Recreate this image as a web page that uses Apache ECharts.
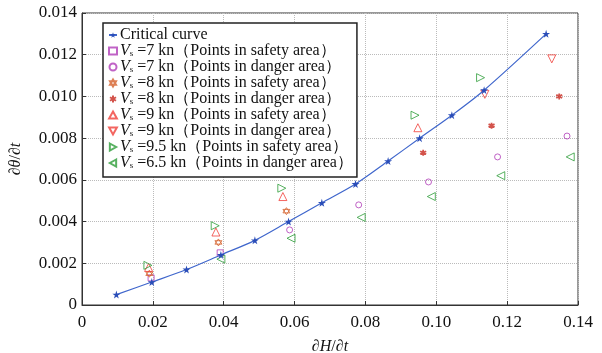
<!DOCTYPE html>
<html>
<head>
<meta charset="utf-8">
<script src="https://cdn.jsdelivr.net/npm/echarts@6/dist/echarts.min.js"></script>
<style>
  html, body { margin: 0; padding: 0; background: #fff; }
  #chart { width: 602px; height: 353px; }
</style>
</head>
<body>
<div id="chart"></div>
<script>
// critical curve
var critX = [0.0097, 0.0197, 0.0295, 0.0392, 0.0488, 0.0583, 0.0677, 0.0772, 0.0864, 0.0953, 0.1044, 0.1135, 0.131];
var critY = [0.0005, 0.0011, 0.0017, 0.0024, 0.0031, 0.0040, 0.0049, 0.0058, 0.0069, 0.0080, 0.0091, 0.0103, 0.0130];

// test points [dH/dt, dθ/dt]
var v7Safe = [[0.0195, 0.0013], [0.0390, 0.0025]];
var v7Danger = [[0.0586, 0.0036], [0.0781, 0.0048], [0.0978, 0.0059], [0.1173, 0.0071], [0.1369, 0.0081]];
var v8Safe = [[0.0190, 0.0015], [0.0385, 0.0030], [0.0577, 0.0045]];
var v8Danger = [[0.0963, 0.0073], [0.1156, 0.0086], [0.1347, 0.0100]];
var v9Safe = [[0.0188, 0.0018], [0.0378, 0.0035], [0.0567, 0.0052], [0.0758, 0.0068], [0.0948, 0.0085]];
var v9Danger = [[0.1137, 0.0101], [0.1326, 0.0118]];
var v95Safe = [[0.0186, 0.0019], [0.0376, 0.0038], [0.0564, 0.0056], [0.0753, 0.0074], [0.0940, 0.0091], [0.1125, 0.0109]];
var v65Danger = [[0.0392, 0.0022], [0.0590, 0.0032], [0.0788, 0.0042], [0.0986, 0.0052], [0.1182, 0.0062], [0.1378, 0.0071]];

var critName = 'Critical curve';
var speeds = ['7', '7', '8', '8', '9', '9', '9.5', '6.5'];
var areas = ['safety', 'danger', 'safety', 'danger', 'safety', 'danger', 'safety', 'danger'];

var serif = '"Liberation Serif", "Times New Roman", serif';

// 符号
var starPath = 'path://M50,0L61,35L98,35L68,57L79,91L50,70L21,91L32,57L2,35L39,35Z';
var hexPath = 'path://M50,0L93,75L7,75Z M50,100L7,25L93,25Z';
var astPath = 'path://M50,0L50,100M7,25L93,75M7,75L93,25';
var rightTri = 'path://M0,0L90,50L0,100Z';
var leftTri = 'path://M90,0L0,50L90,100Z';
var upTri = 'path://M50,0L100,90L0,90Z';
var downTri = 'path://M0,0L100,0L50,90Z';

var purple = '#b03cb8', orange = '#d4602a', darkRed = '#c8281e', red = '#f0403a', green = '#2e9e3a';

function ptName (i) {
  return 'Vs =' + speeds[i] + ' kn（Points in ' + areas[i] + ' area）';
}

function hollow (name, data, symbol, color, size) {
  return {
    name: name,
    type: 'scatter',
    data: data,
    symbol: symbol,
    symbolSize: size || 7,
    itemStyle: { color: 'rgba(255,255,255,0)', borderColor: color, borderWidth: 1 }
  };
}

var series = [
  {
    name: critName,
    type: 'line',
    data: critX.map(function (x, i) { return [x, critY[i]]; }),
    smooth: 0.3,
    symbol: starPath,
    symbolSize: 8,
    showAllSymbol: true,
    lineStyle: { color: '#3f66cc', width: 1.2 },
    itemStyle: { color: '#2a4db8' },
    z: 3
  },
  hollow(ptName(0), v7Safe, 'rect', purple, 6),
  hollow(ptName(1), v7Danger, 'circle', purple, 6),
  hollow(ptName(2), v8Safe, hexPath, orange, 7),
  {
    name: ptName(3),
    type: 'scatter',
    data: v8Danger,
    symbol: astPath,
    symbolSize: 6,
    itemStyle: { color: darkRed, borderColor: darkRed, borderWidth: 1.8 }
  },
  hollow(ptName(4), v9Safe, upTri, red, 8),
  hollow(ptName(5), v9Danger, downTri, red, 8),
  hollow(ptName(6), v95Safe, rightTri, green, 8),
  hollow(ptName(7), v65Danger, leftTri, green, 8)
];

var myChart = echarts.init(document.getElementById('chart'));

var option = {
  animation: false,
  backgroundColor: '#fff',
  grid: {
    left: 82, right: 24, top: 13, bottom: 48,
    outerBoundsMode: 'none',
    containLabel: false,
    show: true, borderColor: '#333', borderWidth: 1
  },
  legend: {
    orient: 'vertical',
    left: 103,
    top: 23,
    padding: [4, 4, 6, 5],
    itemGap: 0,
    itemWidth: 8,
    itemHeight: 7,
    backgroundColor: '#fff',
    borderColor: '#222',
    borderWidth: 1.5,
    z: 10,
    data: series.map(function (s) { return s.name; }),
    formatter: function (name) {
      if (name.indexOf('Vs') === 0) {
        return '{i|V}{s|s}' + name.slice(2);
      }
      return name;
    },
    textStyle: {
      fontFamily: serif,
      fontSize: 16,
      lineHeight: 16,
      color: '#111',
      padding: [0, 0, 0, -2],
      rich: {
        i: { fontFamily: serif, fontStyle: 'italic', fontSize: 16, lineHeight: 16, color: '#111' },
        s: { fontFamily: serif, fontSize: 9, lineHeight: 10, color: '#111', padding: [6, 0, 0, 0] }
      }
    }
  },
  xAxis: {
    type: 'value',
    min: 0,
    max: 0.14,
    interval: 0.02,
    name: '{d|∂}{i|H}{d|/∂}{i|t}',
    nameLocation: 'middle',
    nameGap: 34,
    nameTextStyle: {
      rich: {
        d: { fontFamily: serif, fontSize: 16, color: '#111' },
        i: { fontFamily: serif, fontSize: 16, fontStyle: 'italic', color: '#111' }
      }
    },
    axisLine: { lineStyle: { color: '#333' } },
    axisTick: { inside: true, length: 4, lineStyle: { color: '#333' } },
    axisLabel: {
      fontFamily: serif, fontSize: 17, color: '#111', margin: 9,
      formatter: function (v) { return v === 0 ? '0' : v.toFixed(2); }
    },
    splitLine: { show: true, lineStyle: { color: '#bbb', type: 'dotted' } }
  },
  yAxis: {
    type: 'value',
    min: 0,
    max: 0.014,
    interval: 0.002,
    name: '{d|∂}{i|θ}{d|/∂}{i|t}',
    nameLocation: 'middle',
    nameGap: 58,
    nameTextStyle: {
      rich: {
        d: { fontFamily: serif, fontSize: 16, color: '#111' },
        i: { fontFamily: serif, fontSize: 16, fontStyle: 'italic', color: '#111' }
      }
    },
    axisLine: { lineStyle: { color: '#333' } },
    axisTick: { inside: true, length: 4, lineStyle: { color: '#333' } },
    axisLabel: {
      fontFamily: serif, fontSize: 17, color: '#111', margin: 5,
      formatter: function (v) { return v === 0 ? '0' : v.toFixed(3); }
    },
    splitLine: { show: true, lineStyle: { color: '#bbb', type: 'dotted' } }
  },
  series: series
};

myChart.setOption(option);
</script>
</body>
</html>
